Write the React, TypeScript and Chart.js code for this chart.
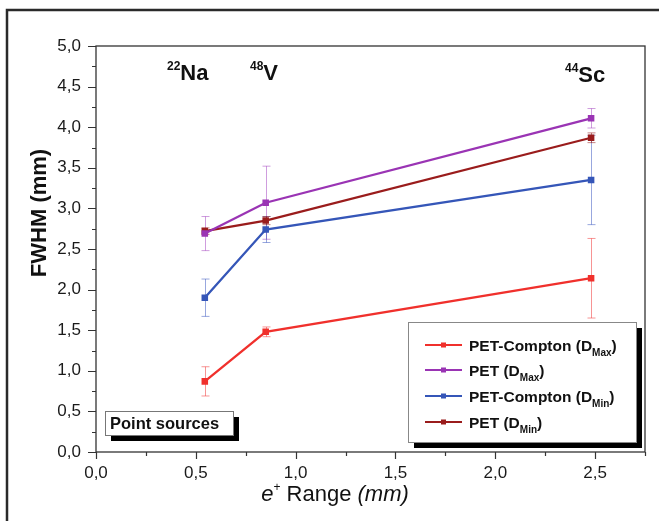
import React, { useEffect, useRef } from 'react';
import { Chart, registerables } from 'chart.js';
Chart.register(...registerables);

// e+ range of the sources (mm)
const rangeX = [0.545, 0.85, 2.48];
// FWHM values (mm)
const petComptonDmax = [0.87, 1.48, 2.14];
const petComptonDmaxErr = [0.18, 0.06, 0.49];
const petDmax = [2.69, 3.07, 4.11];
const petDmaxErr = [0.21, 0.45, 0.12];
const petComptonDmin = [1.9, 2.74, 3.35];
const petComptonDminErr = [0.23, 0.16, 0.55];
const petDmin = [2.72, 2.85, 3.87];
const petDminErr = [0.04, 0.05, 0.06];

const legendBase = ['PET-Compton (D', 'PET (D', 'PET-Compton (D', 'PET (D'];
const legendSub = ['Max', 'Max', 'Min', 'Min'];
const isotopeMass = ['22', '48', '44'];
const isotopeSym = ['Na', 'V', 'Sc'];

const FONT = '"Liberation Sans", Arial, Helvetica, sans-serif';

const colors = ['#f0302c', '#9a34b4', '#3556b8', '#9a1c1c'];
const errColors = [
  'rgba(240,60,60,0.55)',
  'rgba(160,60,190,0.5)',
  'rgba(50,80,190,0.5)',
  'rgba(150,30,30,0.55)',
];
const values = [petComptonDmax, petDmax, petComptonDmin, petDmin];
const errors = [petComptonDmaxErr, petDmaxErr, petComptonDminErr, petDminErr];

function fmt(v: number) {
  return v.toFixed(1).replace('.', ',');
}
function isMajor(v: number) {
  return Math.abs(v / 0.5 - Math.round(v / 0.5)) < 1e-6;
}

type Part = { t: string; font: string; dy?: number };
function drawRich(ctx: CanvasRenderingContext2D, x: number, y: number, parts: Part[]) {
  let cx = x;
  for (const p of parts) {
    ctx.font = p.font;
    ctx.fillText(p.t, cx, y + (p.dy || 0));
    cx += ctx.measureText(p.t).width;
  }
  return cx - x;
}
function richWidth(ctx: CanvasRenderingContext2D, parts: Part[]) {
  let w = 0;
  for (const p of parts) {
    ctx.font = p.font;
    w += ctx.measureText(p.t).width;
  }
  return w;
}

const deco = {
  id: 'deco',
  beforeDatasetsDraw(chart: any) {
    const ctx = chart.ctx as CanvasRenderingContext2D;
    const xs = chart.scales.x;
    const ys = chart.scales.y;
    ctx.save();
    ctx.lineWidth = 1;
    for (let s = 0; s < values.length; s++) {
      ctx.strokeStyle = errColors[s];
      for (let i = 0; i < rangeX.length; i++) {
        const px = Math.round(xs.getPixelForValue(rangeX[i])) + 0.5;
        const top = ys.getPixelForValue(values[s][i] + errors[s][i]);
        const bot = ys.getPixelForValue(values[s][i] - errors[s][i]);
        ctx.beginPath();
        ctx.moveTo(px, top);
        ctx.lineTo(px, bot);
        ctx.moveTo(px - 4, top);
        ctx.lineTo(px + 4, top);
        ctx.moveTo(px - 4, bot);
        ctx.lineTo(px + 4, bot);
        ctx.stroke();
      }
    }
    ctx.restore();
  },
  afterDraw(chart: any) {
    const ctx = chart.ctx as CanvasRenderingContext2D;
    const a = chart.chartArea;
    const xs = chart.scales.x;
    const ys = chart.scales.y;
    ctx.save();
    // outer frame
    ctx.strokeStyle = '#2a2a2a';
    ctx.lineWidth = 2.5;
    ctx.strokeRect(7, 10, 720, 600);
    // plot border
    ctx.strokeStyle = '#333';
    ctx.lineWidth = 1.3;
    ctx.strokeRect(a.left, a.top, a.right - a.left, a.bottom - a.top);
    // ticks
    ctx.lineWidth = 1.2;
    ctx.beginPath();
    for (let v = 0; v <= 5.0001; v += 0.25) {
      const py = Math.round(ys.getPixelForValue(v)) + 0.5;
      const len = isMajor(v) ? 8 : 4;
      ctx.moveTo(a.left - len, py);
      ctx.lineTo(a.left, py);
    }
    for (let v = 0; v <= 2.7501; v += 0.25) {
      const px = Math.round(xs.getPixelForValue(v)) + 0.5;
      const len = isMajor(v) ? 7 : 4;
      ctx.moveTo(px, a.bottom);
      ctx.lineTo(px, a.bottom + len);
    }
    ctx.stroke();

    ctx.fillStyle = '#111';
    ctx.textBaseline = 'alphabetic';
    ctx.textAlign = 'left';
    // isotope labels
    const isoPos = [
      [167, 80],
      [250, 80],
      [565, 82],
    ];
    for (let i = 0; i < isotopeSym.length; i++) {
      drawRich(ctx, isoPos[i][0], isoPos[i][1], [
        { t: isotopeMass[i], font: `bold 12px ${FONT}`, dy: -10 },
        { t: isotopeSym[i], font: `bold 22px ${FONT}` },
      ]);
    }

    // y axis title
    ctx.save();
    ctx.translate(46, 213);
    ctx.rotate(-Math.PI / 2);
    ctx.font = `bold 22px ${FONT}`;
    ctx.textAlign = 'center';
    ctx.fillText('FWHM (mm)', 0, 0);
    ctx.restore();

    // x axis title
    const xt: Part[] = [
      { t: 'e', font: `italic 22px ${FONT}` },
      { t: '+', font: `12px ${FONT}`, dy: -10 },
      { t: ' Range ', font: `22px ${FONT}` },
      { t: '(mm)', font: `italic 22px ${FONT}` },
    ];
    const xw = richWidth(ctx, xt);
    drawRich(ctx, 335 - xw / 2, 501, xt);

    // Point sources box
    ctx.fillStyle = '#000';
    ctx.fillRect(111, 417, 128, 24);
    ctx.fillStyle = '#fff';
    ctx.fillRect(105, 411, 128, 24);
    ctx.strokeStyle = '#777';
    ctx.lineWidth = 1;
    ctx.strokeRect(105.5, 411.5, 128, 24);
    ctx.fillStyle = '#111';
    ctx.font = `bold 16.5px ${FONT}`;
    ctx.fillText('Point sources', 110, 429);

    // legend
    ctx.fillStyle = '#000';
    ctx.fillRect(414, 328, 228, 120);
    ctx.fillStyle = '#fff';
    ctx.fillRect(408, 322, 228, 120);
    ctx.strokeStyle = '#888';
    ctx.strokeRect(408.5, 322.5, 228, 120);
    const rows = [345, 370, 396, 422];
    for (let s = 0; s < legendBase.length; s++) {
      const yy = rows[s];
      ctx.strokeStyle = colors[s];
      ctx.lineWidth = 2.2;
      ctx.beginPath();
      ctx.moveTo(425, yy);
      ctx.lineTo(462, yy);
      ctx.stroke();
      ctx.fillStyle = colors[s];
      ctx.fillRect(441, yy - 2.5, 5, 5);
      ctx.fillStyle = '#111';
      drawRich(ctx, 469, yy + 6, [
        { t: legendBase[s], font: `bold 15.5px ${FONT}` },
        { t: legendSub[s], font: `bold 10px ${FONT}`, dy: 5 },
        { t: ')', font: `bold 15.5px ${FONT}` },
      ]);
    }
    ctx.restore();
  },
};

export default function App() {
  const ref = useRef<HTMLCanvasElement>(null);
  useEffect(() => {
    if (!ref.current) return;
    const datasets = values.map((vals, s) => ({
      label: legendBase[s] + legendSub[s] + ')',
      data: rangeX.map((x, i) => ({ x, y: vals[i] })),
      borderColor: colors[s],
      backgroundColor: colors[s],
      borderWidth: 2.3,
      pointStyle: 'rect' as const,
      pointRadius: 3,
      pointHoverRadius: 3,
      tension: 0,
    }));
    const chart = new Chart(ref.current, {
      type: 'line',
      data: { datasets },
      options: {
        responsive: false,
        animation: false,
        events: [],
        layout: { padding: { top: 46, right: 14, left: 0, bottom: 0 } },
        plugins: { legend: { display: false }, tooltip: { enabled: false } },
        scales: {
          x: {
            type: 'linear',
            min: 0,
            max: 2.75,
            grid: { display: false, drawTicks: false },
            border: { display: false },
            afterFit: (sc: any) => {
              sc.height = 69;
            },
            ticks: {
              stepSize: 0.25,
              autoSkip: false,
              maxRotation: 0,
              padding: 11,
              color: '#1a1a1a',
              font: { family: FONT, size: 17 },
              callback: (v: any) => (isMajor(Number(v)) ? fmt(Number(v)) : ''),
            },
          },
          y: {
            type: 'linear',
            min: 0,
            max: 5,
            grid: { display: false, drawTicks: false },
            border: { display: false },
            afterFit: (sc: any) => {
              sc.width = 96;
            },
            ticks: {
              stepSize: 0.25,
              autoSkip: false,
              padding: 15,
              color: '#1a1a1a',
              font: { family: FONT, size: 17 },
              callback: (v: any) => (isMajor(Number(v)) ? fmt(Number(v)) : ''),
            },
          },
        },
      },
      plugins: [deco],
    });
    return () => chart.destroy();
  }, []);
  return (
    <div style={{ position: 'absolute', left: 0, top: 0, width: 659, height: 521, background: '#fff' }}>
      <canvas ref={ref} width={659} height={521} />
    </div>
  );
}
